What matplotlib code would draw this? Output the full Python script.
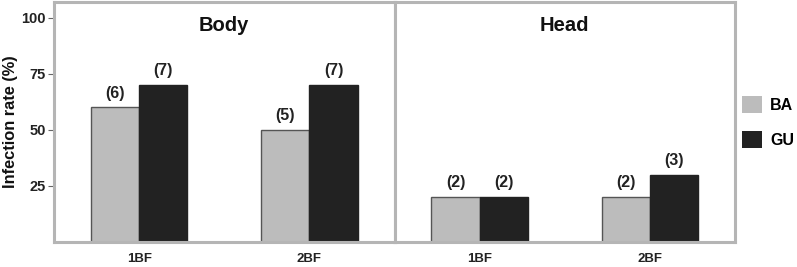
import numpy as np
import matplotlib.pyplot as plt
import matplotlib.patches as patches

# datos
categorias = ["1BF", "2BF"]
paneles = ["Body", "Head"]
grupos = ["BA", "GU"]
body_ba = [60, 50]
body_gu = [70, 70]
head_ba = [20, 20]
head_gu = [20, 30]
body_n_ba = ["(6)", "(5)"]
body_n_gu = ["(7)", "(7)"]
head_n_ba = ["(2)", "(2)"]
head_n_gu = ["(2)", "(3)"]
yticks = [25, 50, 75, 100]

col_ba = "#bcbcbc"
col_gu = "#222222"
col_marco = "#b5b5b5"

plt.rcParams["font.family"] = "Liberation Sans"
plt.rcParams["font.weight"] = "bold"

fig = plt.figure(figsize=(7.97, 2.67), dpi=100)
izq, der = 54 / 797, 735 / 797
ancho = (der - izq) / 2
abajo, arriba = 1 - 242 / 267, 1 - 2 / 267
ax1 = fig.add_axes([izq, abajo, ancho, arriba - abajo])
ax2 = fig.add_axes([izq + ancho, abajo, ancho, arriba - abajo])

datos = [(body_ba, body_gu, body_n_ba, body_n_gu),
         (head_ba, head_gu, head_n_ba, head_n_gu)]

x = np.arange(len(categorias))
w = 0.283
for ax, titulo, (ba, gu, nba, ngu) in zip([ax1, ax2], paneles, datos):
    b1 = ax.bar(x - w / 2, ba, w, color=col_ba, edgecolor="#555555", linewidth=1.0)
    b2 = ax.bar(x + w / 2, gu, w, color=col_gu, edgecolor="#222222", linewidth=1.0)
    for barras, etiquetas in [(b1, nba), (b2, ngu)]:
        for b, t in zip(barras, etiquetas):
            ax.text(b.get_x() + b.get_width() / 2, b.get_height() + 3, t,
                    ha="center", va="bottom", fontsize=11.5, fontweight="bold",
                    color="#222222")
    ax.set_xlim(-0.5, 1.5)
    ax.set_ylim(0, 107)
    ax.set_xticks(x)
    ax.set_xticklabels(categorias, fontsize=9.5, fontweight="bold", color="#222222")
    ax.tick_params(axis="x", length=0, pad=8)
    ax.text(0.5, 0.94, titulo, transform=ax.transAxes, ha="center", va="top",
            fontsize=14.5, fontweight="bold", color="#111111")
    for s in ax.spines.values():
        s.set_color(col_marco)
        s.set_linewidth(2.2)

ax1.set_yticks(yticks)
ax1.set_yticklabels([str(v) for v in yticks], fontsize=10.5, fontweight="bold",
                    color="#222222")
ax1.tick_params(axis="y", length=4, width=0.8, color="#666666", pad=2)
ax1.set_ylabel("Infection rate (%)", fontsize=11.8, fontweight="bold",
               color="#111111", labelpad=2)
ax2.set_yticks([])

manejadores = [patches.Patch(facecolor=col_ba, edgecolor="none", label=grupos[0]),
               patches.Patch(facecolor=col_gu, edgecolor="none", label=grupos[1])]
fig.legend(handles=manejadores, loc="center left", bbox_to_anchor=(0.931, 0.544),
           frameon=False, fontsize=11.5, handlelength=1.25, handleheight=1.3,
           handletextpad=0.5, labelspacing=1.1, borderaxespad=0, borderpad=0)

fig.savefig("out.png", dpi=100)
